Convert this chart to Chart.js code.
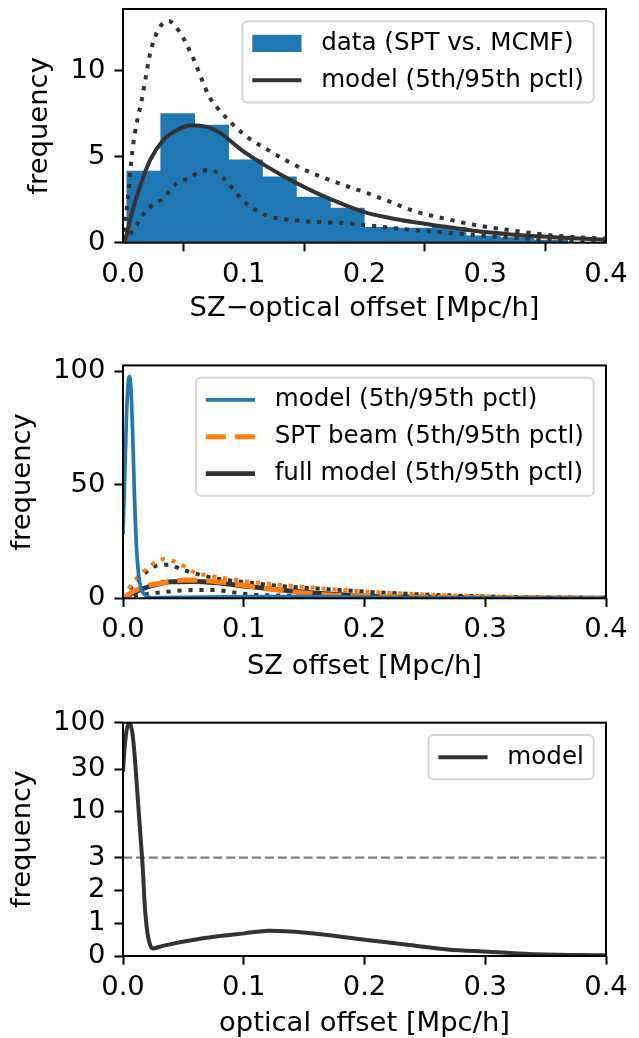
<!DOCTYPE html>
<html>
<head>
<meta charset="utf-8">
<script src="https://cdn.jsdelivr.net/npm/chart.js@4.4.1/dist/chart.umd.min.js"></script>
<style>
  html, body { margin: 0; padding: 0; background: #fff; overflow: hidden; }
  #wrap { position: relative; width: 639px; height: 1038px; overflow: hidden; }
  canvas { position: absolute; left: 0; }
</style>
</head>
<body>
<div id="wrap">
  <canvas id="c1" width="639" height="360" style="top:-20px"></canvas>
  <canvas id="c2" width="639" height="350" style="top:340px"></canvas>
  <canvas id="c3" width="639" height="348" style="top:690px"></canvas>
</div>
<script>
// ---- data ----
const xTicks = [0, 0.1, 0.2, 0.3, 0.4];
const y1Ticks = [0, 5, 10];
const y2Ticks = [0, 50, 100];
const y3Ticks = [0, 1, 2, 3, 10, 30, 100];

// panel 1: histogram (bin centres, heights)
const histCenters = [0.0172, 0.0453, 0.0734, 0.1015, 0.1296, 0.1577, 0.1858, 0.2139, 0.2420, 0.2701, 0.2982, 0.3263, 0.3544];
const histCounts  = [4.17, 7.52, 6.84, 4.82, 3.83, 2.66, 2.02, 0.90, 0.85, 0.89, 0.40, 0.30, 0.15];

const p1MedX = [0, 0.0017, 0.0072, 0.0141, 0.0224, 0.0334, 0.0445, 0.0569, 0.0693, 0.079, 0.1, 0.12, 0.14, 0.16, 0.18, 0.2, 0.22, 0.24, 0.27, 0.3, 0.33, 0.36, 0.4];
const p1MedY = [0, 0.16, 1.7, 3.26, 4.8, 5.97, 6.55, 6.84, 6.74, 6.45, 5.3, 4.4, 3.6, 2.9, 2.3, 1.78, 1.45, 1.2, 0.9, 0.62, 0.43, 0.3, 0.17];
const p1HiX = [0, 0.0039, 0.0072, 0.0099, 0.0155, 0.0238, 0.0375, 0.0466, 0.0577, 0.0715, 0.0776, 0.1, 0.12, 0.14, 0.16, 0.185, 0.2018, 0.218, 0.243, 0.268, 0.29, 0.318, 0.345, 0.373, 0.4];
const p1HiY = [0, 2.5, 5.0, 6.4, 8.3, 11.4, 12.9, 12.3, 10.8, 8.5, 7.9, 6.3, 5.4, 4.6, 3.95, 3.3, 2.9, 2.47, 1.8, 1.38, 1.05, 0.75, 0.5, 0.33, 0.24];
const p1LoX = [0, 0.0085, 0.0196, 0.0334, 0.0445, 0.0541, 0.0638, 0.0707, 0.079, 0.0904, 0.1005, 0.118, 0.134, 0.1576, 0.185, 0.213, 0.24, 0.268, 0.2957, 0.345, 0.4];
const p1LoY = [0, 0.74, 1.9, 2.6, 3.45, 3.74, 4.13, 4.23, 4.03, 3.17, 2.39, 1.61, 1.36, 1.22, 1.13, 0.93, 0.74, 0.58, 0.42, 0.2, 0.1];

// panel 2 + 3: intrinsic offset model
const modelX = [0, 0.0015, 0.003, 0.0045, 0.0054, 0.0065, 0.0078, 0.0095, 0.0112, 0.013, 0.0148, 0.0165, 0.018, 0.0203, 0.0225, 0.0246, 0.033, 0.0663, 0.1005, 0.121, 0.1516, 0.2017, 0.2355, 0.269, 0.303, 0.336, 0.4];
const modelY = [28, 55, 82, 96, 97.7, 93, 76, 45, 22, 10, 4.6, 2.6, 1.55, 0.69, 0.33, 0.23, 0.31, 0.54, 0.69, 0.77, 0.71, 0.49, 0.34, 0.2, 0.13, 0.06, 0.02];

// panel 2: SPT beam and full model
const beamX = [0, 0.01, 0.021, 0.0348, 0.0513, 0.068, 0.0845, 0.1038, 0.123, 0.145, 0.17, 0.2, 0.25, 0.3, 0.35, 0.4];
const beamY = [0, 3.4, 5.6, 7.0, 8.05, 7.8, 6.9, 5.4, 4.0, 2.6, 1.5, 1.0, 0.5, 0.2, 0.08, 0.02];
const beamHiX = [0, 0.0058, 0.0127, 0.0252, 0.0342, 0.0431, 0.0513, 0.0596, 0.068, 0.0845, 0.1038, 0.123, 0.148, 0.173, 0.2, 0.227, 0.2625, 0.29, 0.33, 0.4];
const beamHiY = [0, 5.1, 9.5, 15.4, 17.3, 16.1, 13.9, 11.3, 10.3, 8.8, 7.3, 6.3, 5.1, 4.0, 3.0, 2.2, 1.45, 1.1, 0.6, 0.2];
const fullX = [0, 0.01, 0.021, 0.04, 0.059, 0.076, 0.1038, 0.13, 0.16, 0.2, 0.25, 0.3, 0.35, 0.4];
const fullY = [0, 2.8, 5.1, 7.3, 7.4, 6.9, 5.2, 3.7, 2.3, 1.1, 0.5, 0.2, 0.08, 0.02];
const fullHiX = [0, 0.0072, 0.0196, 0.0293, 0.0376, 0.0486, 0.0596, 0.076, 0.1038, 0.131, 0.159, 0.19, 0.23, 0.27, 0.32, 0.4];
const fullHiY = [0, 5.1, 11.7, 14.6, 14.8, 12.7, 11.0, 8.8, 6.9, 5.4, 4.4, 3.3, 2.1, 1.3, 0.6, 0.2];
const fullLoX = [0, 0.0127, 0.021, 0.0293, 0.0486, 0.065, 0.076, 0.0928, 0.1093, 0.131, 0.17, 0.22, 0.28, 0.4];
const fullLoY = [0, 1.5, 1.9, 2.5, 3.4, 3.7, 3.7, 2.5, 1.5, 1.2, 0.9, 0.5, 0.2, 0.05];

// panel 3: threshold line
const threshX = [0, 0.4];
const threshY = [3, 3];

// ---- styling ----
const FS = 27.4;      // ticks and axis labels
const LFS = 24.6;     // legend
const FONT = 'DejaVu Sans';
const DARK = '#333333';
const BLUE = '#1f77b4';
const ORANGE = '#ff7f0e';
const DOT = [4.2, 6.8];

Chart.defaults.font.family = FONT;
Chart.defaults.font.size = FS;
Chart.defaults.color = '#000';

// symlog scale (linthresh 3, linscale 1), like matplotlib's
const LIN = 3, LSA = 1 / (1 - 1 / 10);
const fwd = v => v <= LIN ? v * LSA : LIN * (LSA + Math.log10(v / LIN));
const inv = t => t <= LIN * LSA ? t / LSA : LIN * Math.pow(10, t / LIN - LSA);

class SymlogScale extends Chart.Scale {
  determineDataLimits() {
    this.min = this.options.min;
    this.max = this.options.max;
  }
  buildTicks() {
    return y3Ticks.map(v => ({ value: v }));
  }
  getLabelForValue(v) { return String(v); }
  configure() {
    super.configure();
    this._lo = fwd(this.min);
    this._hi = fwd(this.max);
  }
  getPixelForValue(v) {
    return this.getPixelForDecimal((fwd(v) - this._lo) / (this._hi - this._lo));
  }
  getValueForPixel(p) {
    return inv(this._lo + this.getDecimalForPixel(p) * (this._hi - this._lo));
  }
}
SymlogScale.id = 'symlog';
SymlogScale.defaults = {};
Chart.register(SymlogScale);

// matplotlib-style legend in the upper right of the axes
const insideLegend = {
  id: 'insideLegend',
  afterDatasetsDraw(chart) {
    const { ctx, chartArea } = chart;
    const items = chart.data.datasets.filter(d => d.label && !d.label.startsWith('_'));
    ctx.save();
    ctx.font = `${LFS}px "${FONT}"`;
    const textW = Math.max(...items.map(d => ctx.measureText(d.label).width));
    const pad = 0.4 * LFS, handle = 2 * LFS, gap = 0.8 * LFS, rowGap = 0.5 * LFS;
    const w = pad + handle + gap + textW + pad;
    const h = 2 * pad + items.length * LFS + (items.length - 1) * rowGap;
    const x = chartArea.right - 0.5 * LFS - w;
    const y = chartArea.top + 0.5 * LFS;

    ctx.beginPath();
    ctx.roundRect(x, y, w, h, 0.2 * LFS);
    ctx.fillStyle = 'rgba(255,255,255,0.8)';
    ctx.fill();
    ctx.lineWidth = 2;
    ctx.strokeStyle = 'rgba(204,204,204,0.8)';
    ctx.stroke();

    items.forEach((d, i) => {
      const cy = y + pad + LFS / 2 + i * (LFS + rowGap);
      const hx = x + pad;
      if (d.type === 'bar') {
        ctx.fillStyle = d.backgroundColor;
        ctx.fillRect(hx, cy - 0.35 * LFS, handle, 0.7 * LFS);
      } else {
        ctx.beginPath();
        ctx.setLineDash(d.borderDash || []);
        ctx.lineCap = 'butt';
        ctx.lineWidth = d.borderWidth;
        ctx.strokeStyle = d.borderColor;
        ctx.moveTo(hx, cy);
        ctx.lineTo(hx + handle, cy);
        ctx.stroke();
        ctx.setLineDash([]);
      }
      ctx.fillStyle = '#000';
      ctx.textBaseline = 'middle';
      ctx.textAlign = 'left';
      ctx.fillText(d.label, hx + handle + gap, cy);
    });
    ctx.restore();
  }
};

// axes frame (all four spines)
const frame = {
  id: 'frame',
  afterDraw(chart) {
    const { ctx, chartArea: a } = chart;
    ctx.save();
    ctx.strokeStyle = '#000';
    ctx.lineWidth = 2;
    ctx.strokeRect(a.left, a.top, a.right - a.left, a.bottom - a.top);
    ctx.restore();
  }
};

function curve(xs, ys, label, color, width, dash) {
  return {
    type: 'line',
    label: label,
    data: xs.map((x, i) => ({ x: x, y: ys[i] })),
    borderColor: color,
    borderWidth: width,
    borderDash: dash || [],
    borderCapStyle: 'butt',
    pointRadius: 0,
    fill: false,
    cubicInterpolationMode: 'monotone',
    order: 0
  };
}

const tickGrid = { drawOnChartArea: false, drawTicks: true, tickLength: 8.6, tickWidth: 2, tickColor: '#000', color: '#000' };

function xAxis(title, titlePad, height) {
  return {
    type: 'linear', min: 0, max: 0.4, offset: false,
    afterBuildTicks: s => { s.ticks = xTicks.map(v => ({ value: v })); },
    afterFit: s => { s.height = height; },
    ticks: { color: '#000', padding: 6.9, maxRotation: 0, autoSkip: false, callback: v => v.toFixed(1) },
    grid: tickGrid,
    border: { display: false },
    title: { display: true, text: title, color: '#000', font: { size: FS, lineHeight: 1 }, padding: { top: 0, bottom: titlePad } }
  };
}

function yAxis(type, max, ticks, titlePad) {
  const ax = {
    type: type, min: 0, max: max,
    afterFit: s => { s.width = 123; },
    ticks: { color: '#000', padding: 9, autoSkip: false },
    grid: tickGrid,
    border: { display: false },
    title: { display: true, text: 'frequency', color: '#000', font: { size: FS, lineHeight: 1 }, padding: { top: titlePad, bottom: 0 } }
  };
  if (type === 'linear') ax.afterBuildTicks = s => { s.ticks = ticks.map(v => ({ value: v })); };
  return ax;
}

function baseOptions(top, xTitle, xTitlePad, xHeight, y) {
  return {
    responsive: false,
    animation: false,
    events: [],
    layout: { padding: { top: top, right: 33, left: 0, bottom: 0 } },
    plugins: { legend: { display: false }, tooltip: { enabled: false } },
    scales: { x: xAxis(xTitle, xTitlePad, xHeight), y: y }
  };
}

// ---- panel 1 ----
new Chart(document.getElementById('c1'), {
  type: 'bar',
  data: {
    datasets: [
      {
        type: 'bar',
        label: 'data (SPT vs. MCMF)',
        data: histCenters.map((x, i) => ({ x: x, y: histCounts[i] })),
        backgroundColor: BLUE,
        barPercentage: 1,
        categoryPercentage: 1,
        order: 1
      },
      curve(p1MedX, p1MedY, 'model (5th/95th pctl)', DARK, 4),
      curve(p1HiX, p1HiY, '_p95', DARK, 4, DOT),
      curve(p1LoX, p1LoY, '_p5', DARK, 4, DOT)
    ]
  },
  options: baseOptions(29, 'SZ\u2212optical offset [Mpc/h]', 17.5, 97.3, yAxis('linear', 13.6, y1Ticks, 26)),
  plugins: [insideLegend, frame]
});

// ---- panel 2 ----
new Chart(document.getElementById('c2'), {
  type: 'line',
  data: {
    datasets: [
      curve(modelX, modelY, 'model (5th/95th pctl)', BLUE, 3.7),
      curve(beamX, beamY, 'SPT beam (5th/95th pctl)', ORANGE, 5, [20, 9]),
      curve(beamHiX, beamHiY, '_beam95', ORANGE, 4, DOT),
      curve(fullX, fullY, 'full model (5th/95th pctl)', DARK, 4.8),
      curve(fullHiX, fullHiY, '_full95', DARK, 4, DOT),
      curve(fullLoX, fullLoY, '_full5', DARK, 4, DOT)
    ]
  },
  options: baseOptions(25, 'SZ offset [Mpc/h]', 9.8, 91.7, yAxis('linear', 102.6, y2Ticks, 9.5)),
  plugins: [insideLegend, frame]
});

// ---- panel 3 ----
new Chart(document.getElementById('c3'), {
  type: 'line',
  data: {
    datasets: [
      curve(modelX, modelY, 'model', DARK, 4),
      curve(threshX, threshY, '_threshold', '#808080', 2.4, [9, 3.9])
    ]
  },
  options: baseOptions(32.7, 'optical offset [Mpc/h]', 0.8, 82, yAxis('symlog', 100, y3Ticks, 9.5)),
  plugins: [insideLegend, frame]
});
</script>
</body>
</html>
